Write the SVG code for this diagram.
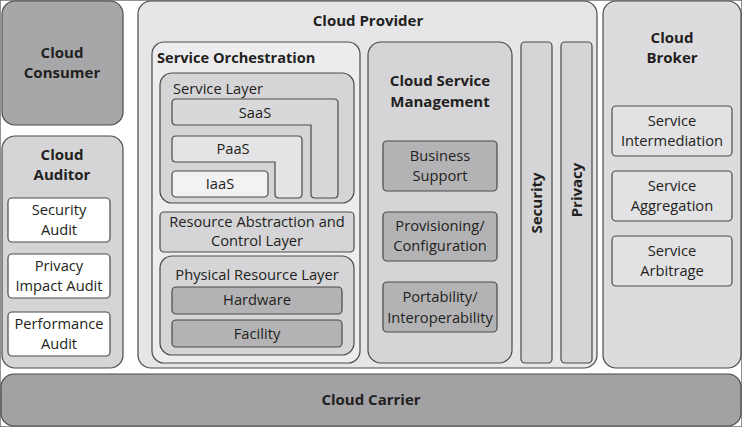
<svg xmlns="http://www.w3.org/2000/svg" width="742" height="427" viewBox="0 0 742 427">
<style>
rect,path{stroke:#4a4a4c;stroke-width:1.2}
text{font-family:"Open Sans","Noto Sans","Liberation Sans",sans-serif;fill:#231f20;text-anchor:middle;font-size:14.7px}
.b{font-weight:bold;font-size:15px}
.dark{fill:#a7a7a9}
.mid{fill:#d5d5d7}
.light{fill:#e6e6e8}
.pale{fill:#ededef}
.white{fill:#ffffff}
.inner{fill:#b3b3b5}
</style>
<rect x="0" y="0" width="742" height="427" fill="#ffffff" stroke="none"/>
<g id="consumer">
<rect class="dark" x="2" y="1" width="121" height="124" rx="13"/>
<text class="b" x="62" y="58">Cloud</text>
<text class="b" x="62" y="78">Consumer</text>
</g>
<g id="auditor">
<rect class="mid" x="2" y="136" width="121" height="232" rx="13"/>
<text class="b" x="62" y="160">Cloud</text>
<text class="b" x="62" y="180">Auditor</text>
<g id="security-audit"><rect class="white" x="8" y="198" width="102" height="44" rx="4"/><text x="59" y="215">Security</text><text x="59" y="235">Audit</text></g>
<g id="privacy-audit"><rect class="white" x="8" y="254" width="102" height="44" rx="4"/><text x="59" y="271">Privacy</text><text x="59" y="291">Impact Audit</text></g>
<g id="performance-audit"><rect class="white" x="8" y="312" width="102" height="44" rx="4"/><text x="59" y="329">Performance</text><text x="59" y="349">Audit</text></g>
</g>
<g id="provider">
<rect class="light" x="138" y="1" width="459" height="367" rx="13"/>
<text class="b" x="368" y="26">Cloud Provider</text>
<g id="orchestration">
<rect class="pale" x="152" y="42" width="208" height="321" rx="12"/>
<text class="b" x="157" y="63" style="text-anchor:start;font-size:14.6px">Service Orchestration</text>
<g id="service-layer">
<rect class="mid" x="160" y="73" width="194" height="130" rx="12"/>
<text x="173" y="94" style="text-anchor:start">Service Layer</text>
<g id="saas"><path fill="#d8d8da" d="M176 99 H334 Q338 99 338 103 V194 Q338 198 334 198 H315 Q311 198 311 194 V125 H176 Q172 125 172 121 V103 Q172 99 176 99 Z"/><text x="255" y="118">SaaS</text></g>
<g id="paas"><path fill="#e4e4e6" d="M176 136 H298 Q302 136 302 140 V194 Q302 198 298 198 H279 Q275 198 275 194 V162 H176 Q172 162 172 158 V140 Q172 136 176 136 Z"/><text x="233" y="154">PaaS</text></g>
<g id="iaas"><rect fill="#f2f2f3" x="172" y="171" width="96" height="26" rx="4"/><text x="220" y="189">IaaS</text></g>
</g>
<g id="resource-abstraction">
<rect class="mid" x="160" y="212" width="194" height="40" rx="4"/>
<text x="257" y="227">Resource Abstraction and</text>
<text x="257" y="246">Control Layer</text>
</g>
<g id="physical">
<rect class="mid" x="160" y="256" width="194" height="99" rx="12"/>
<text x="257" y="280">Physical Resource Layer</text>
<g id="hardware"><rect class="inner" x="172" y="287" width="170" height="27" rx="4"/><text x="257" y="305">Hardware</text></g>
<g id="facility"><rect class="inner" x="172" y="320" width="170" height="27" rx="4"/><text x="257" y="339">Facility</text></g>
</g>
</g>
<g id="management">
<rect class="mid" x="368" y="42" width="144" height="321" rx="13"/>
<text class="b" x="440" y="86">Cloud Service</text>
<text class="b" x="440" y="107">Management</text>
<g id="business"><rect class="inner" x="383" y="141" width="114" height="50" rx="4"/><text x="440" y="161">Business</text><text x="440" y="181">Support</text></g>
<g id="provisioning"><rect class="inner" x="383" y="212" width="114" height="49" rx="4"/><text x="440" y="231">Provisioning/</text><text x="440" y="251">Configuration</text></g>
<g id="portability"><rect class="inner" x="383" y="282" width="114" height="50" rx="4"/><text x="440" y="302">Portability/</text><text x="440" y="323">Interoperability</text></g>
</g>
<g id="security"><rect class="mid" x="521" y="42" width="31" height="321" rx="4"/><text class="b" transform="translate(542 203) rotate(-90)">Security</text></g>
<g id="privacy"><rect class="mid" x="561" y="42" width="31" height="321" rx="4"/><text class="b" transform="translate(582 190) rotate(-90)">Privacy</text></g>
</g>
<g id="broker">
<rect fill="#dcdcde" x="603" y="1" width="138" height="367" rx="13"/>
<text class="b" x="672" y="43">Cloud</text>
<text class="b" x="672" y="63">Broker</text>
<g id="intermediation"><rect fill="#e2e2e4" x="612" y="106" width="120" height="50" rx="4"/><text x="672" y="126">Service</text><text x="672" y="146">Intermediation</text></g>
<g id="aggregation"><rect fill="#e2e2e4" x="612" y="171" width="120" height="50" rx="4"/><text x="672" y="191">Service</text><text x="672" y="211">Aggregation</text></g>
<g id="arbitrage"><rect fill="#e2e2e4" x="612" y="236" width="120" height="50" rx="4"/><text x="672" y="256">Service</text><text x="672" y="276">Arbitrage</text></g>
</g>
<g id="carrier">
<rect fill="#a2a2a4" x="1" y="374" width="740" height="52" rx="13"/>
<text class="b" x="371" y="405">Cloud Carrier</text>
</g>
<g id="connectors"></g>
</svg>
